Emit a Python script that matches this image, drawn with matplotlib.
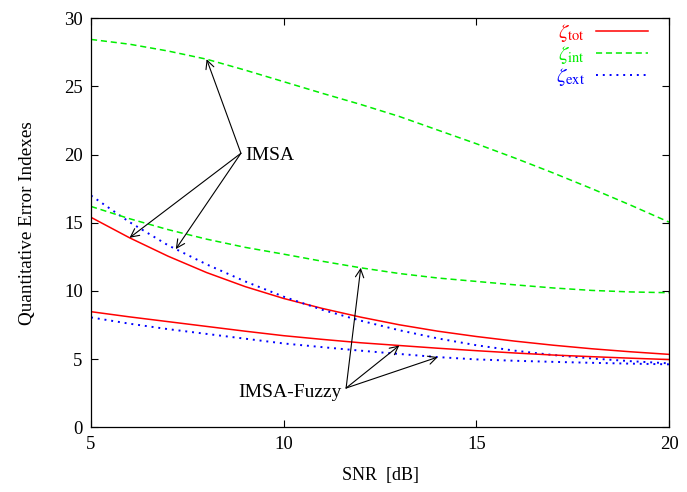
import matplotlib.pyplot as plt
import numpy as np

plt.rcParams['font.family'] = ['Liberation Serif', 'DejaVu Serif']
plt.rcParams['mathtext.fontset'] = 'stix'

snr = np.arange(5, 21)

# IMSA
imsa_tot = [15.4, 13.9, 12.55, 11.35, 10.32, 9.45, 8.72, 8.08, 7.52, 7.05, 6.66, 6.32, 6.02, 5.76, 5.54, 5.35]
imsa_int = [28.45, 28.1, 27.6, 27.0, 26.2, 25.35, 24.5, 23.68, 22.8, 21.8, 20.8, 19.75, 18.65, 17.5, 16.3, 15.05]
imsa_ext = [17.0, 15.05, 13.35, 11.95, 10.7, 9.58, 8.62, 7.82, 7.12, 6.52, 6.02, 5.62, 5.3, 5.05, 4.85, 4.69]

# IMSA-Fuzzy
fuzzy_tot = [8.48, 8.1, 7.75, 7.4, 7.05, 6.72, 6.45, 6.2, 6.0, 5.8, 5.62, 5.45, 5.3, 5.18, 5.07, 4.97]
fuzzy_int = [16.2, 15.3, 14.5, 13.8, 13.2, 12.7, 12.18, 11.7, 11.28, 10.95, 10.7, 10.45, 10.22, 10.04, 9.93, 9.87]
fuzzy_ext = [8.06, 7.6, 7.2, 6.85, 6.5, 6.15, 5.88, 5.62, 5.38, 5.15, 4.98, 4.88, 4.8, 4.73, 4.67, 4.62]

red, green, blue = '#ff0000', '#00ee00', '#0000ff'
lw = 1.1
dash = (0, (4, 2.5))
dot = (0, (1, 2.5))

fig = plt.figure(figsize=(6.87, 4.92), dpi=100)
ax = fig.add_axes([0.1325, 0.1315, 0.8413, 0.8313])

ax.plot(snr, imsa_tot, color=red, lw=lw, label=r'$\zeta_{\rm tot}$')
ax.plot(snr, imsa_int, color=green, lw=lw, ls=dash, label=r'$\zeta_{\rm int}$')
ax.plot(snr, imsa_ext, color=blue, lw=lw + 0.3, ls=dot, label=r'$\zeta_{\rm ext}$')
ax.plot(snr, fuzzy_tot, color=red, lw=lw)
ax.plot(snr, fuzzy_int, color=green, lw=lw, ls=dash)
ax.plot(snr, fuzzy_ext, color=blue, lw=lw + 0.3, ls=dot)

ax.set_xlim(5, 20)
ax.set_ylim(0, 30)
ax.set_xticks([5, 10, 15, 20])
ax.set_yticks(np.arange(0, 31, 5))
ax.tick_params(direction='in', length=5, width=0.8, top=True, right=True,
               labelsize=13.5, pad=6)
for s in ax.spines.values():
    s.set_linewidth(0.9)
ax.set_xlabel('SNR  [dB]', fontsize=13, labelpad=10)
ax.set_ylabel('Quantitative Error Indexes', fontsize=13.8, labelpad=20)

arrow = dict(arrowstyle='->', color='black', lw=0.8, shrinkA=0, shrinkB=0,
             mutation_scale=15)

# arrows from the IMSA label to its curves
imsa_src = (8.89, 20.1)
ax.text(8.99, 19.95, 'IMSA', fontsize=14, va='center', ha='left')
for x, curve in [(8, imsa_int), (6, imsa_tot)]:
    ax.annotate('', xy=(x, curve[x - 5]), xytext=imsa_src, arrowprops=arrow)
ax.annotate('', xy=(7.2, np.interp(7.2, snr, imsa_ext)), xytext=imsa_src,
            arrowprops=arrow)

# arrows from the IMSA-Fuzzy label to its curves
fuzzy_src = (11.62, 2.88)
ax.text(11.5, 2.55, 'IMSA-Fuzzy', fontsize=14, va='center', ha='right')
for x, curve in [(12, fuzzy_int), (13, fuzzy_tot), (14, fuzzy_ext)]:
    ax.annotate('', xy=(x, curve[x - 5]), xytext=fuzzy_src, arrowprops=arrow)

leg = ax.legend(loc='upper right', bbox_to_anchor=(0.963, 0.99),
                markerfirst=False, frameon=False, fontsize=15,
                handlelength=2.5, handletextpad=0.5, labelspacing=0.0,
                borderpad=0, borderaxespad=0, labelcolor='linecolor')

fig.savefig('out.png', dpi=100)
